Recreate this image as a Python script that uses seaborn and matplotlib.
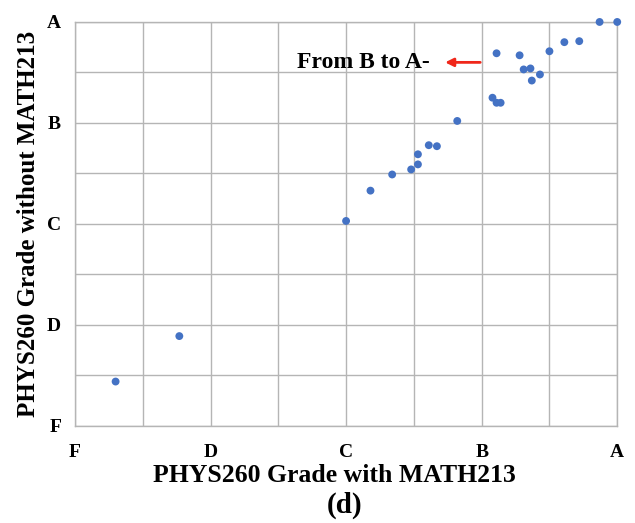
import numpy as np
import pandas as pd
import matplotlib.pyplot as plt
import seaborn as sns

# grade points: F=0, D=1, C=2, B=3, A=4
with_math213 = [3.87, 4.00, 3.61, 3.72, 3.50, 3.11, 3.28, 3.31, 3.36, 3.37, 3.43,
                3.08, 3.11, 3.14, 2.82, 2.61, 2.67, 2.53, 2.53, 2.48, 2.34, 2.18,
                2.00, 0.77, 0.30]
without_math213 = [4.00, 4.00, 3.80, 3.81, 3.71, 3.69, 3.67, 3.53, 3.54, 3.42, 3.48,
                   3.25, 3.20, 3.20, 3.02, 2.78, 2.77, 2.69, 2.59, 2.54, 2.49, 2.33,
                   2.03, 0.89, 0.44]
grade_ticks = [0, 1, 2, 3, 4]
grade_labels = ["F", "D", "C", "B", "A"]

df = pd.DataFrame({"with": with_math213, "without": without_math213})

sns.set_style("white")
plt.rcParams["font.family"] = ["Liberation Serif", "DejaVu Serif"]
plt.rcParams["text.color"] = "black"
plt.rcParams["axes.labelcolor"] = "black"
plt.rcParams["xtick.color"] = "black"
plt.rcParams["ytick.color"] = "black"

fig = plt.figure(figsize=(6.35, 5.23), dpi=100)
ax = fig.add_axes([0.118, 0.1855, 0.854, 0.7725])

sns.scatterplot(data=df, x="with", y="without", color="#4472C4", s=32,
                edgecolor="none", ax=ax, zorder=3, clip_on=False)

ax.set_xlim(0, 4)
ax.set_ylim(0, 4)
ax.set_xticks(np.arange(0, 4.01, 0.5), minor=True)
ax.set_yticks(np.arange(0, 4.01, 0.5), minor=True)
ax.set_xticks(grade_ticks)
ax.set_yticks(grade_ticks)
ax.set_xticklabels(grade_labels, fontsize=14, fontweight="bold")
ax.set_yticklabels(grade_labels, fontsize=14, fontweight="bold")
ax.grid(True, which="both", color="#b5b5b5", linewidth=1)
ax.tick_params(which="both", length=0)
ax.tick_params(axis="x", pad=13)
ax.tick_params(axis="y", pad=10)
for sp in ax.spines.values():
    sp.set_color("#b5b5b5")
    sp.set_linewidth(1)

ax.set_xlabel("PHYS260 Grade with MATH213", fontsize=18.5, fontweight="bold", labelpad=2)
ax.xaxis.set_label_coords(0.479, -0.095)
ax.set_ylabel("PHYS260 Grade without MATH213", fontsize=18, fontweight="bold", labelpad=5)

ax.annotate("", xy=(2.71, 3.60), xytext=(3.01, 3.60),
            arrowprops=dict(arrowstyle="-|>", color="#f0271a", lw=2,
                            mutation_scale=12))
ax.text(2.62, 3.60, "From B to A-", fontsize=17, fontweight="bold",
        ha="right", va="center")

fig.text(0.543, 0.034, "(d)", fontsize=21, fontweight="bold", ha="center", va="center")

fig.savefig("out.png", dpi=100)
